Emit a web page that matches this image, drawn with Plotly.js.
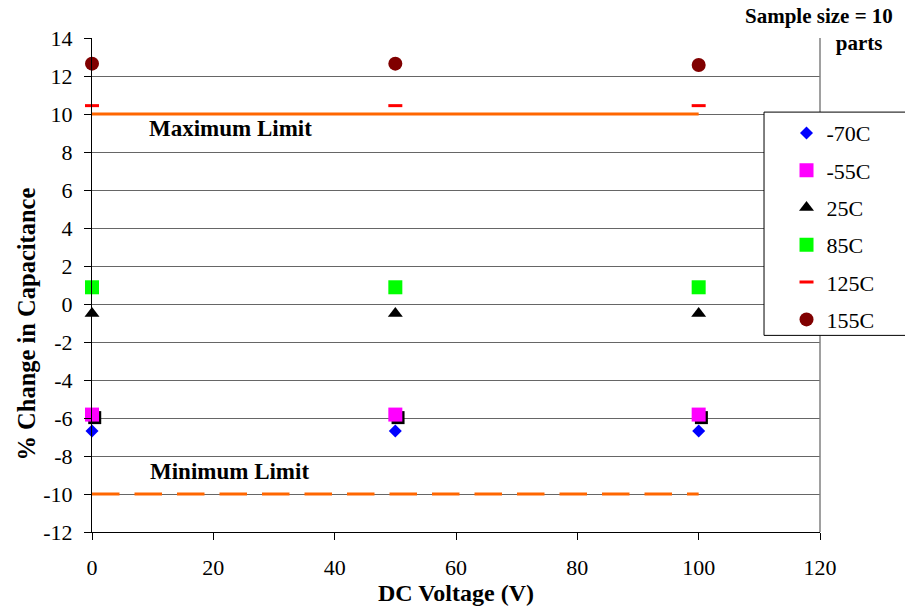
<!DOCTYPE html>
<html><head><meta charset="utf-8">
<script src="https://cdn.plot.ly/plotly-3.0.1.min.js"></script>
<style>html,body{margin:0;padding:0;background:#fff}#chart{width:905px;height:613px}</style>
</head><body><div id="chart"></div>
<script>
const voltages = [0, 50, 100];
const seriesNames = ['-70C', '-55C', '25C', '85C', '125C', '155C'];
const m70C = [-6.68, -6.68, -6.68];
const m55C = [-5.82, -5.82, -5.82];
const p25C = [-0.5, -0.5, -0.5];
const p85C = [0.88, 0.88, 0.88];
const p125C = [10.44, 10.44, 10.44];
const p155C = [12.65, 12.65, 12.58];
const shadowX = [0.45, 50.45, 100.45];
const shadowY = [-5.98, -5.98, -5.98];
const limitX = [0, 100];
const maxLimit = [10, 10];
const minLimit = [-10, -10];
const xTicks = [0, 20, 40, 60, 80, 100, 120];
const yTicks = [-12, -10, -8, -6, -4, -2, 0, 2, 4, 6, 8, 10, 12, 14];

const serif = "'Times New Roman', 'Liberation Serif', 'DejaVu Serif', serif";
const traces = [
  {x: limitX, y: maxLimit, mode: 'lines', line: {color: '#FF6600', width: 3}, showlegend: false, hoverinfo: 'skip', cliponaxis: false},
  {x: limitX, y: minLimit, mode: 'lines', line: {color: '#FF6600', width: 3, dash: '27.5px,15px'}, showlegend: false, hoverinfo: 'skip', cliponaxis: false},
  {x: shadowX, y: shadowY, mode: 'markers', marker: {symbol: 'square', size: 13, color: '#000'}, showlegend: false, cliponaxis: false},
  {x: voltages, y: m70C, name: seriesNames[0], legendgroup: 'a', mode: 'markers', cliponaxis: false, marker: {symbol: 'diamond', size: 10, color: '#0000FF'}},
  {x: voltages, y: m55C, name: seriesNames[1], legendgroup: 'b', mode: 'markers', cliponaxis: false, marker: {symbol: 'square', size: 14, color: '#FF00FF'}},
  {x: voltages, y: p25C, name: seriesNames[2], legendgroup: 'c', mode: 'markers', cliponaxis: false, marker: {symbol: 'triangle-up', size: 13, color: '#000000'}},
  {x: voltages, y: p85C, name: seriesNames[3], legendgroup: 'd', mode: 'markers', cliponaxis: false, marker: {symbol: 'square', size: 14, color: '#00FF00'}},
  {x: voltages, y: p125C, name: seriesNames[4], legendgroup: 'e', mode: 'markers', cliponaxis: false, marker: {symbol: 'line-ew', size: 10, color: '#FF0000', line: {color: '#FF0000', width: 3}}},
  {x: voltages, y: p155C, name: seriesNames[5], legendgroup: 'f', mode: 'markers', cliponaxis: false, marker: {symbol: 'circle', size: 14, color: '#800000'}}
];

const layout = {
  width: 905, height: 613,
  paper_bgcolor: '#fff', plot_bgcolor: '#fff',
  margin: {l: 92, r: 85, t: 38, b: 81, autoexpand: false},
  font: {family: serif, size: 22, color: '#000'},
  showlegend: true,
  legend: {x: 0.954, y: 0.85, xanchor: 'left', yanchor: 'top', bgcolor: 'rgba(0,0,0,0)', borderwidth: 0,
           font: {family: serif, size: 22, color: '#000'}, traceorder: 'grouped', tracegroupgap: 5.7},
  xaxis: {range: [0, 120], tickvals: xTicks, ticktext: xTicks.map(String), showgrid: false, zeroline: false,
          showline: true, linecolor: '#000', linewidth: 1, ticks: 'outside', ticklen: 7, tickcolor: '#000',
          tickfont: {family: serif, size: 22, color: '#000'}, ticklabelstandoff: 9, fixedrange: true,
          title: {text: '<b>DC Voltage (V)</b>', font: {family: serif, size: 24, color: '#000'}, standoff: 2}},
  yaxis: {range: [-12, 14], tickvals: yTicks, ticktext: yTicks.map(String), showgrid: true, gridcolor: '#666', gridwidth: 1,
          zeroline: false, showline: true, linecolor: '#000', linewidth: 1, ticks: 'outside', ticklen: 7, tickcolor: '#000',
          tickfont: {family: serif, size: 22, color: '#000'}, ticklabelstandoff: 7, fixedrange: true},
  shapes: [
    {type: 'line', xref: 'paper', yref: 'paper', x0: 1, x1: 1, y0: 0, y1: 1, line: {color: '#808080', width: 1.5}},
    {type: 'rect', xref: 'paper', yref: 'paper', x0: 0.9231, x1: 1.3, y0: 0.398, y1: 0.85, layer: 'above',
     fillcolor: '#fff', line: {color: '#000', width: 1}}
  ],
  annotations: [
    {x: -0.0902, y: 0.4206, xref: 'paper', yref: 'paper', textangle: -90, xanchor: 'center', yanchor: 'middle',
     text: '<b>% Change in Capacitance</b>', showarrow: false, font: {family: serif, size: 24.5, color: '#000'}},
    {x: 22.9, y: 9.25, xref: 'x', yref: 'y', text: '<b>Maximum Limit</b>', showarrow: false, font: {family: serif, size: 23, color: '#000'}},
    {x: 22.6, y: -8.8, xref: 'x', yref: 'y', text: '<b>Minimum Limit</b>', showarrow: false, font: {family: serif, size: 23, color: '#000'}},
    {x: 1.103, y: 1.072, xref: 'paper', yref: 'paper', xanchor: 'right', yanchor: 'top', align: 'right',
     text: '<b>Sample size = 10</b><br><b>parts</b>&nbsp;&nbsp;', showarrow: false, font: {family: serif, size: 21, color: '#000'}}
  ]
};
Plotly.newPlot('chart', traces, layout, {staticPlot: true, displayModeBar: false});
</script></body></html>
